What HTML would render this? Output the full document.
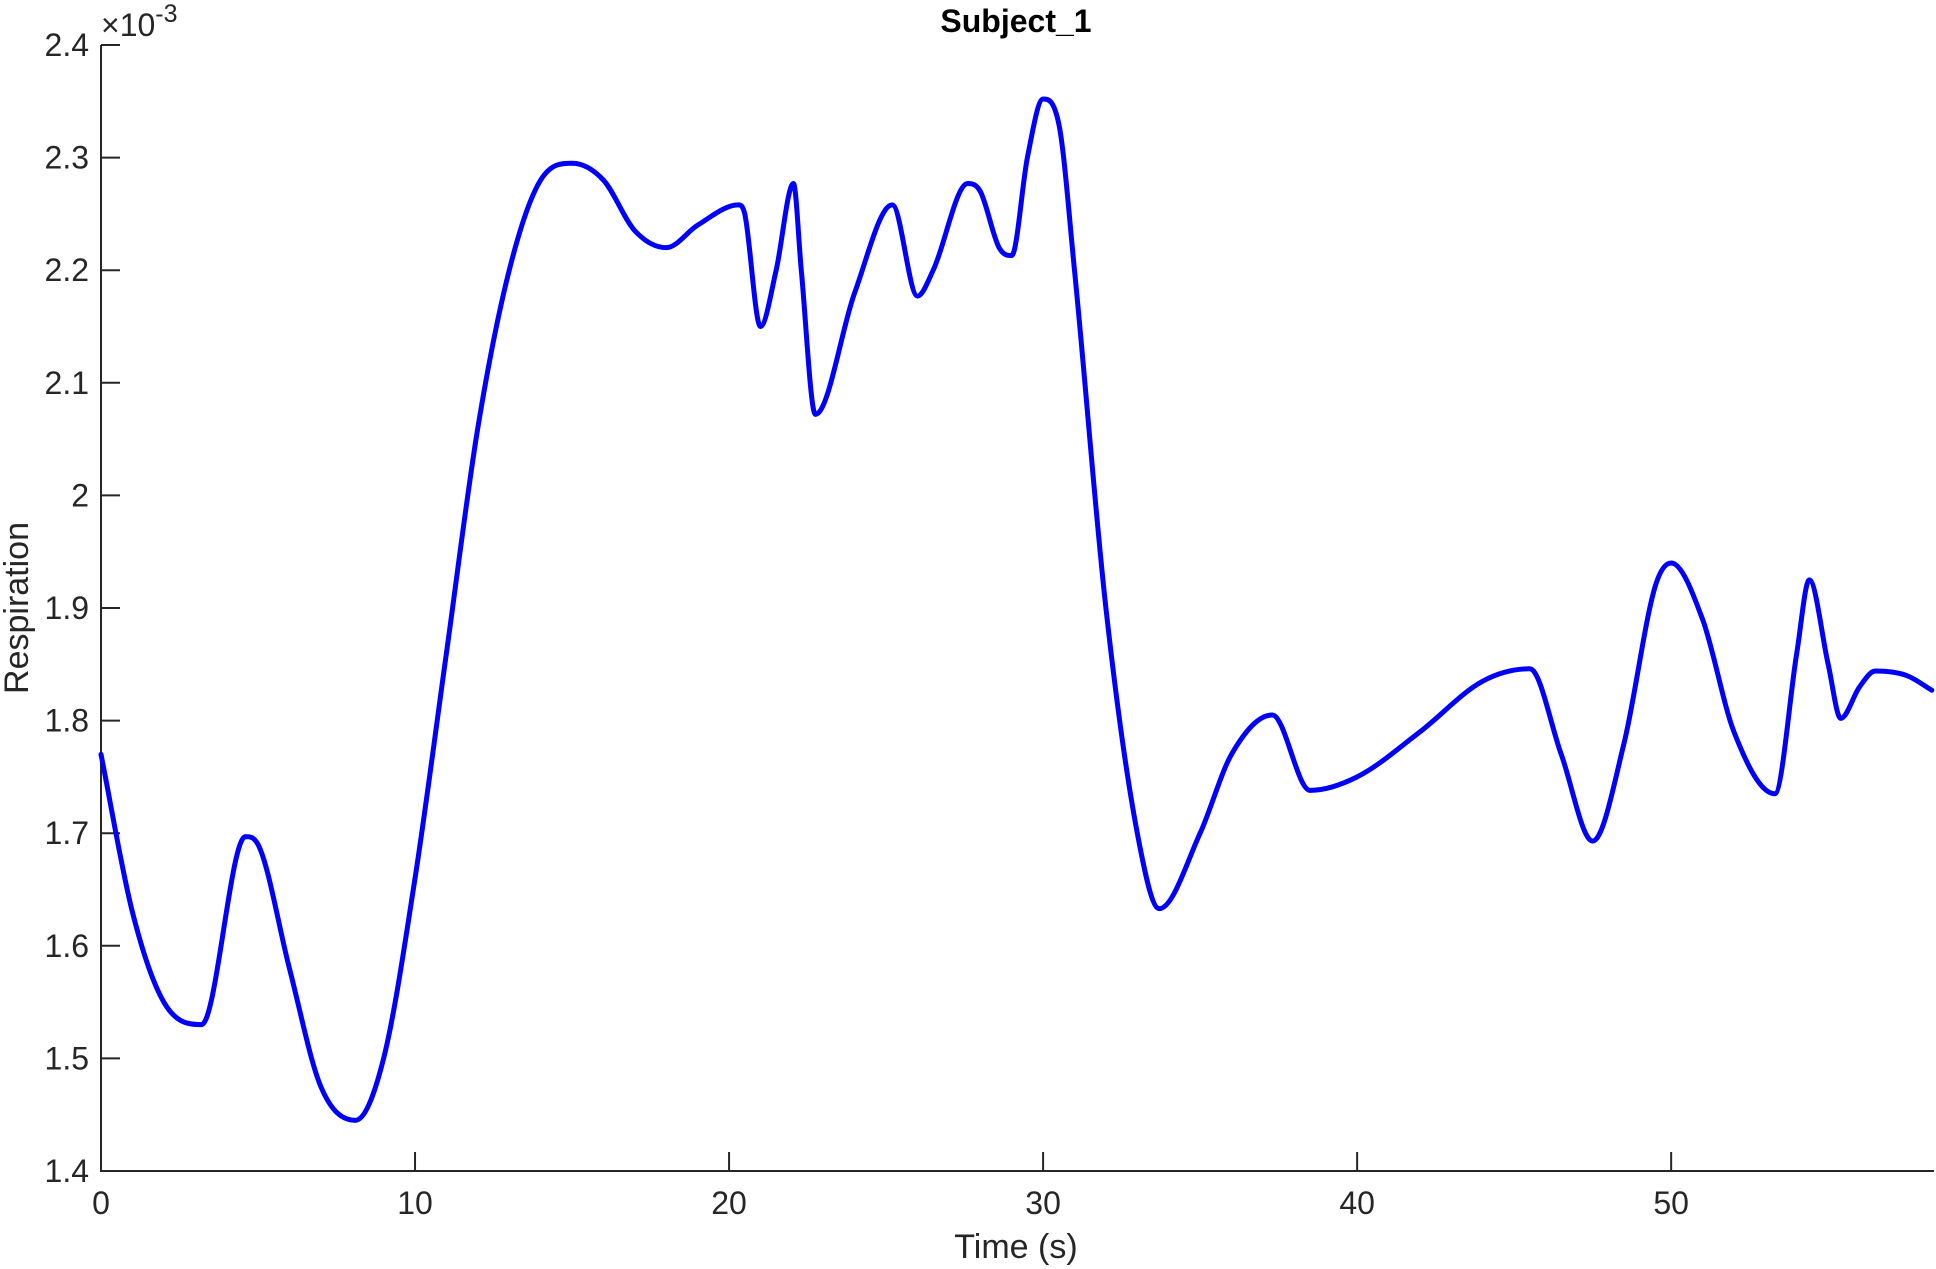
<!DOCTYPE html>
<html><head><meta charset="utf-8"><style>
html,body{margin:0;padding:0;background:#fff;}
svg{display:block;font-family:"Liberation Sans",sans-serif;}
</style></head><body>
<svg id="chart" width="1936" height="1269" viewBox="0 0 1936 1269">
<text x="1016" y="32" font-size="32" font-weight="bold" text-anchor="middle" fill="#000">Subject_1</text>
<text x="101" y="36" font-size="32" fill="#262626">×10<tspan dy="-14" font-size="25">-3</tspan></text>
<text x="1016" y="1258" font-size="34" text-anchor="middle" fill="#262626">Time (s)</text>
<text transform="translate(28,608) rotate(-90)" font-size="34" text-anchor="middle" fill="#262626">Respiration</text>
<g id="axes"></g>
<path id="line" fill="none" stroke="#0000ff" stroke-width="5" stroke-linejoin="round" stroke-linecap="round"></path>
</svg>
<script>
const times=[0,1,2,3.2,4.6,5,6,7,8.1,9,10,11,12,13,14,15,16,17,18,19,20.3,20.5,21,21.5,22.05,22.3,22.75,24,25.2,26,26.5,27.6,28,28.6,29,29.5,30,30.5,31,32,33,33.7,35,36,37.3,38.5,40,42,44,45.5,46.5,47.5,48.5,49.5,50,51,52,53.3,54,54.4,55,55.4,56,56.5,57.5,58.3];
const values=[1.77,1.63,1.55,1.53,1.697,1.69,1.58,1.475,1.445,1.5,1.66,1.86,2.06,2.2,2.28,2.295,2.28,2.235,2.22,2.24,2.258,2.25,2.15,2.2,2.277,2.2,2.072,2.18,2.258,2.177,2.2,2.277,2.27,2.22,2.213,2.3,2.352,2.33,2.2,1.9,1.7,1.633,1.7,1.77,1.805,1.738,1.75,1.79,1.835,1.846,1.77,1.693,1.78,1.92,1.94,1.89,1.79,1.735,1.86,1.925,1.85,1.802,1.83,1.844,1.84,1.827];
const xTicks=[0,10,20,30,40,50];
const yTicks=[1.4,1.5,1.6,1.7,1.8,1.9,2,2.1,2.2,2.3,2.4];
const L=101,R=1934,T=45,B=1171,xMin=0,xMax=58.37,yMin=1.4,yMax=2.4;
const sx=t=>L+(t-xMin)/(xMax-xMin)*(R-L);
const sy=v=>B-(v-yMin)/(yMax-yMin)*(B-T);
const NS='http://www.w3.org/2000/svg';
const g=document.getElementById('axes');
function mk(tag,attrs){const e=document.createElementNS(NS,tag);for(const k in attrs)e.setAttribute(k,attrs[k]);g.appendChild(e);return e;}
const ax=mk('path',{d:`M${L},${T}V${B}H${R}`,fill:'none',stroke:'#262626','stroke-width':2});


xTicks.forEach(t=>{
  const x=sx(t);
  const tk=mk('line',{x1:x,x2:x,y1:B,y2:B-19,stroke:'#262626','stroke-width':2});
  
  
  const tx=mk('text',{x:x,y:B+43,'font-size':32,'text-anchor':'middle',fill:'#262626'});
  tx.textContent=t;
  
  
});
yTicks.forEach(v=>{
  const y=sy(v);
  const tk=mk('line',{x1:L,x2:L+19,y1:y,y2:y,stroke:'#262626','stroke-width':2});
  
  
  const tx=mk('text',{x:L-12,y:y+11,'font-size':32,'text-anchor':'end',fill:'#262626'});
  tx.textContent=(Math.round(v*10)/10).toString();
  
  
});
const px=times.map(sx),py=values.map(sy),n=px.length;
const d=[],m=[];
for(let i=0;i<n-1;i++)d.push((py[i+1]-py[i])/(px[i+1]-px[i]));
m[0]=d[0];m[n-1]=d[n-2];
for(let i=1;i<n-1;i++){m[i]=(d[i-1]*d[i]<=0)?0:(d[i-1]+d[i])/2;}
for(let i=0;i<n-1;i++){if(d[i]===0){m[i]=0;m[i+1]=0;continue;}const a=m[i]/d[i],b=m[i+1]/d[i],s=a*a+b*b;if(s>9){const tt=3/Math.sqrt(s);m[i]=tt*a*d[i];m[i+1]=tt*b*d[i];}}
let p=`M${px[0]},${py[0]}`;
for(let i=0;i<n-1;i++){const h=(px[i+1]-px[i])/3;p+=`C${px[i]+h},${py[i]+m[i]*h} ${px[i+1]-h},${py[i+1]-m[i+1]*h} ${px[i+1]},${py[i+1]}`;}
document.getElementById('line').setAttribute('d',p);
</script>
</body></html>
